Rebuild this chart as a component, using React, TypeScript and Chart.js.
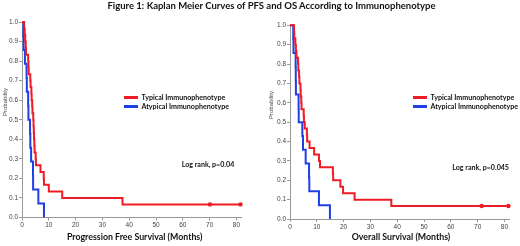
import React, { useEffect, useRef } from "react";
import { Chart, registerables } from "chart.js";

Chart.register(...registerables);

type Pt = { x: number; y: number };

// PFS – Typical Immunophenotype (months, survival probability)
const pfsTypicalT = [0, 0.8, 1.0, 1.2, 1.4, 1.5, 2.3, 2.4, 2.5, 3.1, 3.2, 3.5, 3.6, 3.8, 3.9, 4.2, 4.3, 4.4, 4.5, 4.6, 4.7, 5.1, 5.2, 6.9, 8.1, 8.2, 10.0, 15.0, 37.5, 81.5];
const pfsTypicalS = [1.0, 0.967, 0.933, 0.9, 0.867, 0.833, 0.8, 0.767, 0.733, 0.7, 0.667, 0.633, 0.6, 0.567, 0.533, 0.5, 0.467, 0.433, 0.4, 0.367, 0.333, 0.3, 0.267, 0.233, 0.2, 0.167, 0.133, 0.1, 0.067, 0.067];
const pfsTypicalCensorT = [70.1, 81.5];
const pfsTypicalCensorS = [0.067, 0.067];

// PFS – Atypical Immunophenotype
const pfsAtypicalT = [0, 0.5, 0.6, 1.1, 1.7, 1.8, 2.3, 2.4, 3.0, 3.1, 3.4, 4.1, 4.15, 6.1, 8.2];
const pfsAtypicalS = [1.0, 0.929, 0.857, 0.786, 0.714, 0.643, 0.571, 0.5, 0.429, 0.357, 0.286, 0.214, 0.143, 0.071, 0.0];

// OS – Typical Immunophenotype
const osTypicalT = [0, 1.5, 1.6, 2.0, 2.2, 2.4, 3.0, 3.1, 3.4, 3.5, 3.9, 4.0, 4.2, 4.3, 5.1, 5.2, 5.5, 6.3, 6.4, 7.3, 9.0, 10.8, 11.2, 16.0, 16.1, 18.8, 19.8, 24.1, 37.8, 81.5];
const osTypicalS = [1.0, 0.967, 0.933, 0.9, 0.867, 0.833, 0.8, 0.767, 0.733, 0.7, 0.667, 0.633, 0.6, 0.567, 0.533, 0.5, 0.467, 0.433, 0.4, 0.367, 0.333, 0.3, 0.267, 0.233, 0.2, 0.167, 0.133, 0.1, 0.067, 0.067];
const osTypicalCensorT = [71.5, 81.5];
const osTypicalCensorS = [0.067, 0.067];

// OS – Atypical Immunophenotype
const osAtypicalT = [0, 1.2, 1.3, 2.1, 2.15, 2.2, 3.2, 3.25, 4.6, 4.85, 5.85, 7.1, 7.2, 10.8, 14.9];
const osAtypicalS = [1.0, 0.929, 0.857, 0.786, 0.714, 0.643, 0.571, 0.5, 0.429, 0.357, 0.286, 0.214, 0.143, 0.071, 0.0];

const xTickMax = 82;
const seriesNames = ["Typical Immunophenotype", "Atypical Immunophenotype"];
const titleText = "Figure 1: Kaplan Meier Curves of PFS and OS According to Immunophenotype";

const RED = "#ee1c24";
const BLUE = "#1f3fe6";
const AXIS = "#9a9a9a";

const zip = (t: number[], s: number[]): Pt[] => t.map((x, i) => ({ x, y: s[i] }));

function makeConfig(
  typ: Pt[],
  atyp: Pt[],
  cens: Pt[],
  yAxisWidth: number,
  pad: { top: number; right: number; bottom: number }
): any {
  const tickFont = { family: "'Liberation Sans', Arial, sans-serif", size: 6.5 };
  return {
    type: "line",
    data: {
      datasets: [
        {
          label: seriesNames[0],
          data: typ,
          borderColor: RED,
          borderWidth: 2,
          stepped: "before",
          pointRadius: 0,
          fill: false,
          clip: false,
        },
        {
          label: seriesNames[1],
          data: atyp,
          borderColor: BLUE,
          borderWidth: 2,
          stepped: "before",
          pointRadius: 0,
          fill: false,
          clip: false,
        },
        {
          label: "censored",
          data: cens,
          showLine: false,
          pointRadius: 2.2,
          pointBackgroundColor: RED,
          pointBorderWidth: 0,
          clip: false,
        },
      ],
    },
    options: {
      animation: false,
      responsive: false,
      maintainAspectRatio: false,
      events: [],
      layout: { padding: { left: 0, top: pad.top, right: pad.right, bottom: pad.bottom } },
      plugins: { legend: { display: false }, tooltip: { enabled: false }, title: { display: false } },
      scales: {
        x: {
          type: "linear",
          min: 0,
          max: xTickMax,
          afterFit: (s: any) => {
            s.height = 14;
          },
          ticks: {
            stepSize: 10,
            includeBounds: false,
            font: tickFont,
            color: "#444",
            padding: 1,
            maxRotation: 0,
            callback: (v: any) => String(v),
          },
          grid: { drawOnChartArea: false, drawTicks: true, tickLength: 3, color: AXIS },
          border: { display: true, color: AXIS, width: 1 },
        },
        y: {
          type: "linear",
          min: 0,
          max: 1,
          afterFit: (s: any) => {
            s.width = yAxisWidth;
          },
          ticks: {
            stepSize: 0.1,
            font: tickFont,
            color: "#444",
            padding: 1,
            callback: (v: any) => Number(v).toFixed(1),
          },
          grid: { drawOnChartArea: false, drawTicks: true, tickLength: 3, color: AXIS },
          border: { display: true, color: AXIS, width: 1 },
        },
      },
    },
  };
}

const abs = (left: number, top: number, extra: React.CSSProperties = {}): React.CSSProperties => ({
  position: "absolute",
  left,
  top,
  whiteSpace: "nowrap",
  lineHeight: 1,
  ...extra,
});

const boldFont = "Lato, 'Open Sans', sans-serif";

function Legend({ left, top }: { left: number; top: number }) {
  const colors = [RED, BLUE];
  return (
    <>
      {seriesNames.map((n, i) => (
        <React.Fragment key={n}>
          <div style={abs(left, top + i * 9 - 1.25, { width: 14, height: 2.5, background: colors[i] })} />
          <div
            style={abs(left + 17.5, top + i * 9, {
              transform: "translateY(-50%)",
              fontFamily: boldFont,
              fontWeight: 700,
              fontSize: 7.1,
              color: "#111",
            })}
          >
            {n}
          </div>
        </React.Fragment>
      ))}
    </>
  );
}

export default function App() {
  const leftRef = useRef<HTMLCanvasElement>(null);
  const rightRef = useRef<HTMLCanvasElement>(null);

  useEffect(() => {
    document.body.style.margin = "0";
    const c1 = new Chart(
      leftRef.current as HTMLCanvasElement,
      makeConfig(
        zip(pfsTypicalT, pfsTypicalS),
        zip(pfsAtypicalT, pfsAtypicalS),
        zip(pfsTypicalCensorT, pfsTypicalCensorS),
        22,
        { top: 22, right: 255 - 241.8, bottom: 246 - 217.5 - 14 }
      )
    );
    const c2 = new Chart(
      rightRef.current as HTMLCanvasElement,
      makeConfig(
        zip(osTypicalT, osTypicalS),
        zip(osAtypicalT, osAtypicalS),
        zip(osTypicalCensorT, osTypicalCensorS),
        30,
        { top: 25.3, right: 260 - 249.8, bottom: 246 - 219 - 14 }
      )
    );
    return () => {
      c1.destroy();
      c2.destroy();
    };
  }, []);

  const axisTitle: React.CSSProperties = {
    transform: "translate(-50%, -50%)",
    fontFamily: boldFont,
    fontWeight: 700,
    fontSize: 8.8,
    color: "#111",
  };
  const probStyle: React.CSSProperties = {
    transform: "translate(-50%, -50%) rotate(-90deg)",
    fontFamily: "'Liberation Sans', Arial, sans-serif",
    fontSize: 6,
    color: "#444",
  };
  const noteStyle: React.CSSProperties = {
    transform: "translateY(-50%)",
    fontFamily: boldFont,
    fontWeight: 700,
    fontSize: 7.1,
    color: "#111",
  };

  return (
    <div style={{ position: "relative", width: 520, height: 246, background: "#fff", overflow: "hidden" }}>
      <canvas ref={leftRef} width={255} height={246} style={{ position: "absolute", left: 0, top: 0, width: 255, height: 246 }} />
      <canvas ref={rightRef} width={260} height={246} style={{ position: "absolute", left: 260, top: 0, width: 260, height: 246 }} />
      <div
        style={abs(271.5, 6, {
          transform: "translate(-50%, -50%)",
          fontFamily: boldFont,
          fontWeight: 700,
          fontSize: 9.5,
          color: "#111",
        })}
      >
        {titleText}
      </div>
      <div style={abs(5, 102, probStyle)}>Probability</div>
      <div style={abs(271, 105, probStyle)}>Probability</div>
      <Legend left={124} top={97.7} />
      <Legend left={413} top={97.7} />
      <div style={abs(181.7, 165, noteStyle)}>Log rank, p=0.04</div>
      <div style={abs(452.3, 168, noteStyle)}>Log rank, p=0.045</div>
      <div style={abs(134.7, 237, axisTitle)}>Progression Free Survival (Months)</div>
      <div style={abs(401, 237, axisTitle)}>Overall Survival (Months)</div>
    </div>
  );
}
